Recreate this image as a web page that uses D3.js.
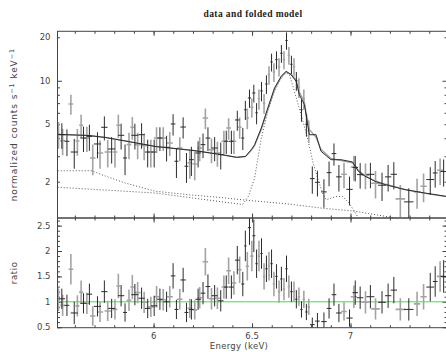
<!DOCTYPE html>
<html>
<head>
<meta charset="utf-8">
<script src="https://cdn.jsdelivr.net/npm/d3@7"></script>
<style>
  body { margin: 0; background: #fff; }
  svg { display: block; }
</style>
</head>
<body>
<svg id="chart" width="446" height="352"></svg>
<script>
// ---- data ----
// data set 1 (dark)
const darkE = [5.534, 5.560, 5.597, 5.644, 5.674, 5.715, 5.750, 5.787, 5.835, 5.855, 5.905, 5.939, 5.970, 6.003,
  6.032, 6.066, 6.099, 6.116, 6.150, 6.167, 6.192, 6.226, 6.251, 6.276, 6.310, 6.341, 6.369, 6.395, 6.425, 6.453, 6.466, 6.487, 6.509,
  6.523, 6.548, 6.573, 6.599, 6.624, 6.649, 6.675, 6.700, 6.725, 6.751, 6.776,
  6.806, 6.832, 6.865, 6.891, 6.916, 6.941, 6.995, 7.024, 7.049, 7.101, 7.160, 7.191, 7.220, 7.296, 7.405, 7.430, 7.473];
const darkHalfW = [0.016, 0.012, 0.018, 0.016, 0.014, 0.018, 0.016, 0.018, 0.016, 0.010, 0.018, 0.016, 0.014, 0.016,
  0.014, 0.016, 0.012, 0.010, 0.014, 0.010, 0.012, 0.014, 0.012, 0.012, 0.016, 0.014, 0.012, 0.012, 0.012, 0.008, 0.006, 0.008, 0.008,
  0.006, 0.006, 0.006, 0.006, 0.006, 0.006, 0.006, 0.006, 0.006, 0.006, 0.006,
  0.012, 0.012, 0.014, 0.012, 0.012, 0.014, 0.016, 0.014, 0.016, 0.020, 0.020, 0.016, 0.016, 0.024, 0.020, 0.012, 0.016];
const darkRate = [4.23, 3.81, 3.21, 4.01, 4.12, 3.65, 4.76, 3.37, 4.19, 2.92, 4.19, 4.23, 3.21, 3.21,
  4.01, 3.46, 5.02, 2.77, 4.78, 2.56, 2.84, 3.16, 3.61, 4.01, 3.42, 3.08, 3.81, 3.81, 5.35, 4.01, 6.30, 7.60, 8.23,
  6.0, 8.5, 9.5, 13.5, 14.0, 15.5, 19.0, 13.0, 10.0, 6.3, 5.0,
  2.10, 1.98, 1.70, 2.31, 3.13, 2.16, 1.77, 2.51, 2.24, 2.25, 1.89, 2.16, 2.25, 1.45, 2.07, 2.30, 2.35];
const darkRateErr = [0.85, 0.80, 0.75, 0.80, 0.85, 0.75, 0.90, 0.70, 0.85, 0.70, 0.85, 0.85, 0.70, 0.70,
  0.75, 0.70, 0.85, 0.65, 0.80, 0.60, 0.65, 0.65, 0.70, 0.75, 0.65, 0.65, 0.70, 0.70, 0.85, 0.70, 0.95, 1.10, 1.15,
  1.0, 1.3, 1.4, 1.9, 2.0, 2.2, 2.6, 1.9, 1.5, 1.1, 0.9,
  0.45, 0.40, 0.38, 0.45, 0.55, 0.45, 0.40, 0.50, 0.45, 0.45, 0.42, 0.45, 0.48, 0.35, 0.45, 0.48, 0.50];
const darkRatio = [1.06, 0.93, 0.78, 0.97, 1.15, 0.91, 1.20, 0.87, 1.12, 0.79, 1.14, 1.07, 0.87, 0.92,
  1.05, 1.00, 1.51, 0.85, 1.43, 0.79, 0.85, 1.05, 1.17, 1.30, 1.12, 1.02, 1.29, 1.29, 1.82, 1.35, 2.10, 2.46, 2.30,
  1.75, 1.95, 1.65, 1.75, 1.50, 1.45, 1.65, 1.20, 1.05, 0.85, 0.80,
  0.55, 0.62, 0.61, 0.87, 1.14, 0.78, 0.68, 1.18, 1.08, 1.10, 0.99, 1.12, 1.23, 0.85, 1.29, 1.40, 1.50];
const darkRatioErr = [0.20, 0.21, 0.22, 0.20, 0.21, 0.20, 0.22, 0.19, 0.21, 0.18, 0.21, 0.21, 0.19, 0.20,
  0.21, 0.20, 0.25, 0.19, 0.24, 0.19, 0.20, 0.21, 0.22, 0.24, 0.21, 0.21, 0.23, 0.23, 0.28, 0.24, 0.30, 0.34, 0.32,
  0.28, 0.30, 0.26, 0.28, 0.24, 0.24, 0.26, 0.20, 0.18, 0.16, 0.16,
  0.14, 0.16, 0.18, 0.20, 0.22, 0.18, 0.17, 0.24, 0.22, 0.23, 0.22, 0.24, 0.26, 0.22, 0.28, 0.30, 0.32];

// data set 2 (grey)
const greyE = [5.517, 5.538, 5.580, 5.613, 5.632, 5.661, 5.691, 5.728, 5.767, 5.804, 5.821, 5.875, 5.892, 5.919, 5.952, 5.986,
  6.015, 6.049, 6.082, 6.133, 6.184, 6.209, 6.234, 6.263, 6.294, 6.324, 6.357, 6.381, 6.408, 6.437, 6.476, 6.499,
  6.535, 6.561, 6.586, 6.611, 6.637, 6.662, 6.687, 6.713, 6.738, 6.763, 6.788,
  6.967, 7.017, 7.076, 7.127, 7.253, 7.338, 7.371, 7.455];
const greyHalfW = [0.008, 0.012, 0.012, 0.010, 0.010, 0.014, 0.014, 0.016, 0.016, 0.012, 0.010, 0.012, 0.010, 0.014, 0.016, 0.014,
  0.014, 0.016, 0.016, 0.014, 0.012, 0.012, 0.012, 0.014, 0.014, 0.014, 0.012, 0.012, 0.012, 0.010, 0.008, 0.008,
  0.006, 0.006, 0.006, 0.006, 0.006, 0.006, 0.006, 0.006, 0.006, 0.006, 0.006,
  0.014, 0.016, 0.020, 0.022, 0.024, 0.016, 0.016, 0.016];
const greyRate = [4.28, 3.85, 6.91, 3.83, 4.92, 4.01, 2.92, 3.16, 3.21, 3.21, 4.92, 3.61, 4.76, 3.61, 3.57, 3.21,
  4.01, 4.01, 3.71, 3.42, 2.70, 2.65, 3.42, 5.52, 3.33, 3.16, 3.81, 4.71, 3.81, 4.76, 5.52, 6.55,
  7.5, 7.0, 11.0, 11.5, 12.5, 14.0, 15.0, 12.5, 9.0, 7.5, 4.5,
  2.25, 2.53, 2.22, 1.95, 1.52, 1.70, 1.86, 2.40];
const greyRateErr = [0.90, 0.80, 1.10, 0.80, 0.90, 0.80, 0.70, 0.70, 0.70, 0.70, 0.90, 0.75, 0.85, 0.75, 0.75, 0.70,
  0.75, 0.75, 0.70, 0.65, 0.60, 0.60, 0.65, 0.90, 0.65, 0.62, 0.70, 0.80, 0.70, 0.80, 0.90, 1.00,
  1.2, 1.1, 1.6, 1.7, 1.8, 2.0, 2.1, 1.8, 1.4, 1.2, 0.8,
  0.45, 0.50, 0.45, 0.42, 0.38, 0.40, 0.42, 0.50];
const greyRatio = [1.04, 0.93, 1.64, 0.92, 1.19, 0.97, 0.72, 0.80, 0.82, 0.85, 1.31, 1.03, 1.29, 1.18, 0.99, 0.90,
  1.10, 1.04, 1.10, 1.05, 0.87, 0.84, 1.08, 1.79, 1.06, 1.07, 1.29, 1.61, 1.37, 1.63, 1.70, 1.90,
  1.90, 1.50, 1.70, 1.35, 1.20, 1.25, 1.30, 1.20, 1.10, 1.05, 0.90,
  0.81, 1.10, 0.99, 0.86, 0.85, 0.96, 1.10, 1.50];
const greyRatioErr = [0.22, 0.21, 0.30, 0.21, 0.23, 0.21, 0.19, 0.20, 0.20, 0.20, 0.24, 0.21, 0.24, 0.21, 0.21, 0.20,
  0.21, 0.21, 0.21, 0.20, 0.19, 0.19, 0.21, 0.27, 0.21, 0.21, 0.23, 0.26, 0.23, 0.26, 0.28, 0.30,
  0.30, 0.26, 0.28, 0.24, 0.22, 0.22, 0.22, 0.20, 0.18, 0.17, 0.16,
  0.18, 0.22, 0.22, 0.21, 0.22, 0.24, 0.25, 0.30];

// folded model (total) for each data set
const modelE = [5.513, 5.667, 5.754, 5.855, 6.007, 6.209, 6.344, 6.422, 6.467, 6.496, 6.513, 6.547, 6.580, 6.614, 6.648, 6.673,
  6.698, 6.724, 6.740, 6.766, 6.774, 6.791, 6.825, 6.850, 6.901, 6.951, 7.010, 7.040, 7.074, 7.125, 7.176, 7.277, 7.378, 7.49];
const modelDark = [4.25, 4.18, 4.05, 3.83, 3.51, 3.28, 3.08, 2.95, 2.99, 3.33, 3.61, 4.71, 6.48, 8.91, 10.74, 11.63,
  11.02, 9.92, 8.01, 6.83, 5.82, 4.23, 4.23, 3.25, 2.84, 2.84, 2.74, 2.36, 2.18, 2.01, 1.91, 1.76, 1.67, 1.58];
const modelGrey = [4.25, 4.18, 4.05, 3.83, 3.51, 3.28, 3.08, 2.95, 2.99, 3.30, 3.55, 4.60, 6.30, 8.70, 10.60, 11.50,
  11.10, 10.10, 8.40, 7.10, 6.10, 4.60, 4.05, 3.35, 2.90, 2.80, 2.70, 2.40, 2.20, 2.03, 1.92, 1.77, 1.66, 1.57];

// model components (dotted)
const compAE = [5.513, 5.686, 5.754, 5.855, 6.007, 6.184, 6.351, 6.467, 6.690, 6.857, 7.019, 7.196, 7.260];
const compAV = [2.38, 2.38, 2.19, 1.96, 1.72, 1.62, 1.55, 1.49, 1.40, 1.31, 1.25, 1.14, 1.10];
const compBE = [5.513, 6.007, 6.234, 6.452, 6.482, 6.513, 6.547, 6.580, 6.614, 6.648, 6.673, 6.690, 6.715, 6.749,
  6.782, 6.808, 6.833, 6.858, 6.876, 6.897, 6.926, 6.960, 6.993, 7.019, 7.044];
const compBV = [1.83, 1.67, 1.52, 1.39, 1.59, 2.12, 4.01, 6.14, 8.45, 10.45, 11.32, 11.02, 8.45, 5.82,
  4.01, 2.77, 2.12, 1.67, 1.50, 1.53, 1.58, 1.58, 1.42, 1.25, 1.10];

// axis ticks
const xMajor = [6, 6.5, 7];
const xLabels = ['6', '6.5', '7'];
const xMinor = d3.range(56, 75).map(d => d / 10);
const yLogLabels = [2, 5, 10, 20];
const yLogMinor = [2, 3, 4, 5, 6, 7, 8, 9, 20];
const yRatioLabels = [0.5, 1, 1.5, 2, 2.5];
const yRatioMinor = d3.range(5, 27).map(d => d / 10);

// ---- layout ----
const L = 57.5, R = 447, T = 31.3, M = 218, B = 327.7;
const axisColor = '#444';
const darkColor = '#2b2b2b';
const greyColor = '#a3a3a3';

const svg = d3.select('#chart');

const x = d3.scaleLinear().domain([5.512, 7.49]).range([L, R]);
const y = d3.scaleLog().domain([1.121, 22]).range([M, T]);
const yr = d3.scaleLinear().domain([0.49, 2.65]).range([B, M]);

svg.append('defs').call(defs => {
  defs.append('clipPath').attr('id', 'clipTop')
    .append('rect').attr('x', L).attr('y', T).attr('width', R - L).attr('height', M - T);
  defs.append('clipPath').attr('id', 'clipBot')
    .append('rect').attr('x', L).attr('y', M).attr('width', R - L).attr('height', B - M);
});

const font = "'DejaVu Sans', sans-serif";

// title
svg.append('text')
  .attr('x', 253).attr('y', 17)
  .attr('text-anchor', 'middle')
  .attr('font-family', "'Liberation Serif', serif")
  .attr('font-weight', 'bold')
  .attr('font-size', 9.5)
  .attr('letter-spacing', 0.4)
  .attr('fill', '#222')
  .text('data and folded model');

// ---- axes ----
function tickAxis(gen, pos, values, size) {
  svg.append('g')
    .attr('transform', pos)
    .call(gen.tickValues(values).tickSize(size).tickFormat(''))
    .call(g => g.select('.domain').remove())
    .call(g => g.selectAll('line').attr('stroke', axisColor));
}

// top panel x ticks
tickAxis(d3.axisBottom(x), `translate(0,${M})`, xMinor, -2.5);
tickAxis(d3.axisBottom(x), `translate(0,${M})`, xMajor, -4.5);
tickAxis(d3.axisTop(x), `translate(0,${T})`, xMinor, -2.5);
tickAxis(d3.axisTop(x), `translate(0,${T})`, xMajor, -4.5);
// bottom panel x ticks
tickAxis(d3.axisBottom(x), `translate(0,${B})`, xMinor, -2.5);
tickAxis(d3.axisBottom(x), `translate(0,${B})`, xMajor, -4.5);
tickAxis(d3.axisTop(x), `translate(0,${M})`, xMinor, -2.5);
tickAxis(d3.axisTop(x), `translate(0,${M})`, xMajor, -4.5);
// y ticks top (log)
tickAxis(d3.axisLeft(y), `translate(${L},0)`, yLogMinor, -2.5);
tickAxis(d3.axisLeft(y), `translate(${L},0)`, [10], -4.5);
tickAxis(d3.axisRight(y), `translate(${R},0)`, yLogMinor, -2.5);
tickAxis(d3.axisRight(y), `translate(${R},0)`, [10], -4.5);
// y ticks bottom (ratio)
tickAxis(d3.axisLeft(yr), `translate(${L},0)`, yRatioMinor, -2.5);
tickAxis(d3.axisLeft(yr), `translate(${L},0)`, yRatioLabels, -4.5);
tickAxis(d3.axisRight(yr), `translate(${R},0)`, yRatioMinor, -2.5);
tickAxis(d3.axisRight(yr), `translate(${R},0)`, yRatioLabels, -4.5);

// tick labels
const labelStyle = sel => sel
  .attr('font-family', font)
  .attr('font-size', 8.5)
  .attr('fill', '#444');

svg.append('g').selectAll('text')
  .data(yLogLabels)
  .join('text')
  .attr('x', L - 7).attr('y', d => y(d)).attr('dy', '0.35em')
  .attr('text-anchor', 'end')
  .text(d => d)
  .call(labelStyle);

svg.append('g').selectAll('text')
  .data(yRatioLabels)
  .join('text')
  .attr('x', L - 7).attr('y', d => yr(d)).attr('dy', '0.35em')
  .attr('text-anchor', 'end')
  .text(d => d)
  .call(labelStyle);

svg.append('g').selectAll('text')
  .data(xMajor)
  .join('text')
  .attr('x', d => x(d)).attr('y', B + 11)
  .attr('text-anchor', 'middle')
  .text((d, i) => xLabels[i])
  .call(labelStyle);

// axis titles
svg.append('text')
  .attr('x', 239).attr('y', B + 21)
  .attr('text-anchor', 'middle')
  .attr('letter-spacing', 0.3)
  .text('Energy (keV)')
  .call(labelStyle);

const yTitle = svg.append('text')
  .attr('transform', `translate(17,${(T + M) / 2}) rotate(-90)`)
  .attr('text-anchor', 'middle')
  .call(labelStyle)
  .attr('font-size', 9)
  .attr('letter-spacing', 0.9);
yTitle.append('tspan').text('normalized counts s');
yTitle.append('tspan').attr('dy', -3.5).attr('font-size', 6.5).text('\u22121');
yTitle.append('tspan').attr('dy', 3.5).text('  keV');
yTitle.append('tspan').attr('dy', -3.5).attr('font-size', 6.5).text('\u22121');

svg.append('text')
  .attr('transform', `translate(17,${(M + B) / 2}) rotate(-90)`)
  .attr('text-anchor', 'middle')
  .attr('letter-spacing', 0.6)
  .text('ratio')
  .call(labelStyle);

// ---- plot contents ----
const topG = svg.append('g').attr('clip-path', 'url(#clipTop)');
const botG = svg.append('g').attr('clip-path', 'url(#clipBot)');

// ratio = 1 line
botG.append('line')
  .attr('x1', L).attr('x2', R)
  .attr('y1', yr(1)).attr('y2', yr(1))
  .attr('stroke', '#3ee23e').attr('stroke-width', 1);

function drawSet(E, hw, rate, err, ratio, rerr, color, width) {
  const pts = E.map((e, i) => ({e, hw: hw[i], v: rate[i], err: err[i], r: ratio[i], rerr: rerr[i]}));
  const gT = topG.append('g').attr('stroke', color).attr('stroke-width', width);
  gT.selectAll('line.v').data(pts).join('line').attr('class', 'v')
    .attr('x1', d => x(d.e)).attr('x2', d => x(d.e))
    .attr('y1', d => y(Math.max(d.v - d.err, 0.5))).attr('y2', d => y(d.v + d.err));
  gT.selectAll('line.h').data(pts).join('line').attr('class', 'h')
    .attr('x1', d => x(d.e - d.hw)).attr('x2', d => x(d.e + d.hw))
    .attr('y1', d => y(d.v)).attr('y2', d => y(d.v));
  const gB = botG.append('g').attr('stroke', color).attr('stroke-width', width);
  gB.selectAll('line.v').data(pts).join('line').attr('class', 'v')
    .attr('x1', d => x(d.e)).attr('x2', d => x(d.e))
    .attr('y1', d => yr(d.r - d.rerr)).attr('y2', d => yr(d.r + d.rerr));
  gB.selectAll('line.h').data(pts).join('line').attr('class', 'h')
    .attr('x1', d => x(d.e - d.hw)).attr('x2', d => x(d.e + d.hw))
    .attr('y1', d => yr(d.r)).attr('y2', d => yr(d.r));
}

const lineOf = (E, V) => d3.line()
  .x((d, i) => x(E[i]))
  .y(d => y(d))(V);

// dotted components
[[compAE, compAV], [compBE, compBV]].forEach(([E, V]) => {
  topG.append('path')
    .attr('d', lineOf(E, V))
    .attr('fill', 'none')
    .attr('stroke', '#555')
    .attr('stroke-width', 1)
    .attr('stroke-dasharray', '1,2');
});

drawSet(greyE, greyHalfW, greyRate, greyRateErr, greyRatio, greyRatioErr, greyColor, 1.6);

topG.append('path')
  .attr('d', lineOf(modelE, modelGrey))
  .attr('fill', 'none').attr('stroke', greyColor).attr('stroke-width', 1.3);

drawSet(darkE, darkHalfW, darkRate, darkRateErr, darkRatio, darkRatioErr, darkColor, 1);

topG.append('path')
  .attr('d', lineOf(modelE, modelDark))
  .attr('fill', 'none').attr('stroke', darkColor).attr('stroke-width', 1);

// frames
[[T, M], [M, B]].forEach(([t, b]) => {
  svg.append('rect')
    .attr('x', L).attr('y', t).attr('width', R - L).attr('height', b - t)
    .attr('fill', 'none').attr('stroke', axisColor).attr('stroke-width', 1);
});
</script>
</body>
</html>
